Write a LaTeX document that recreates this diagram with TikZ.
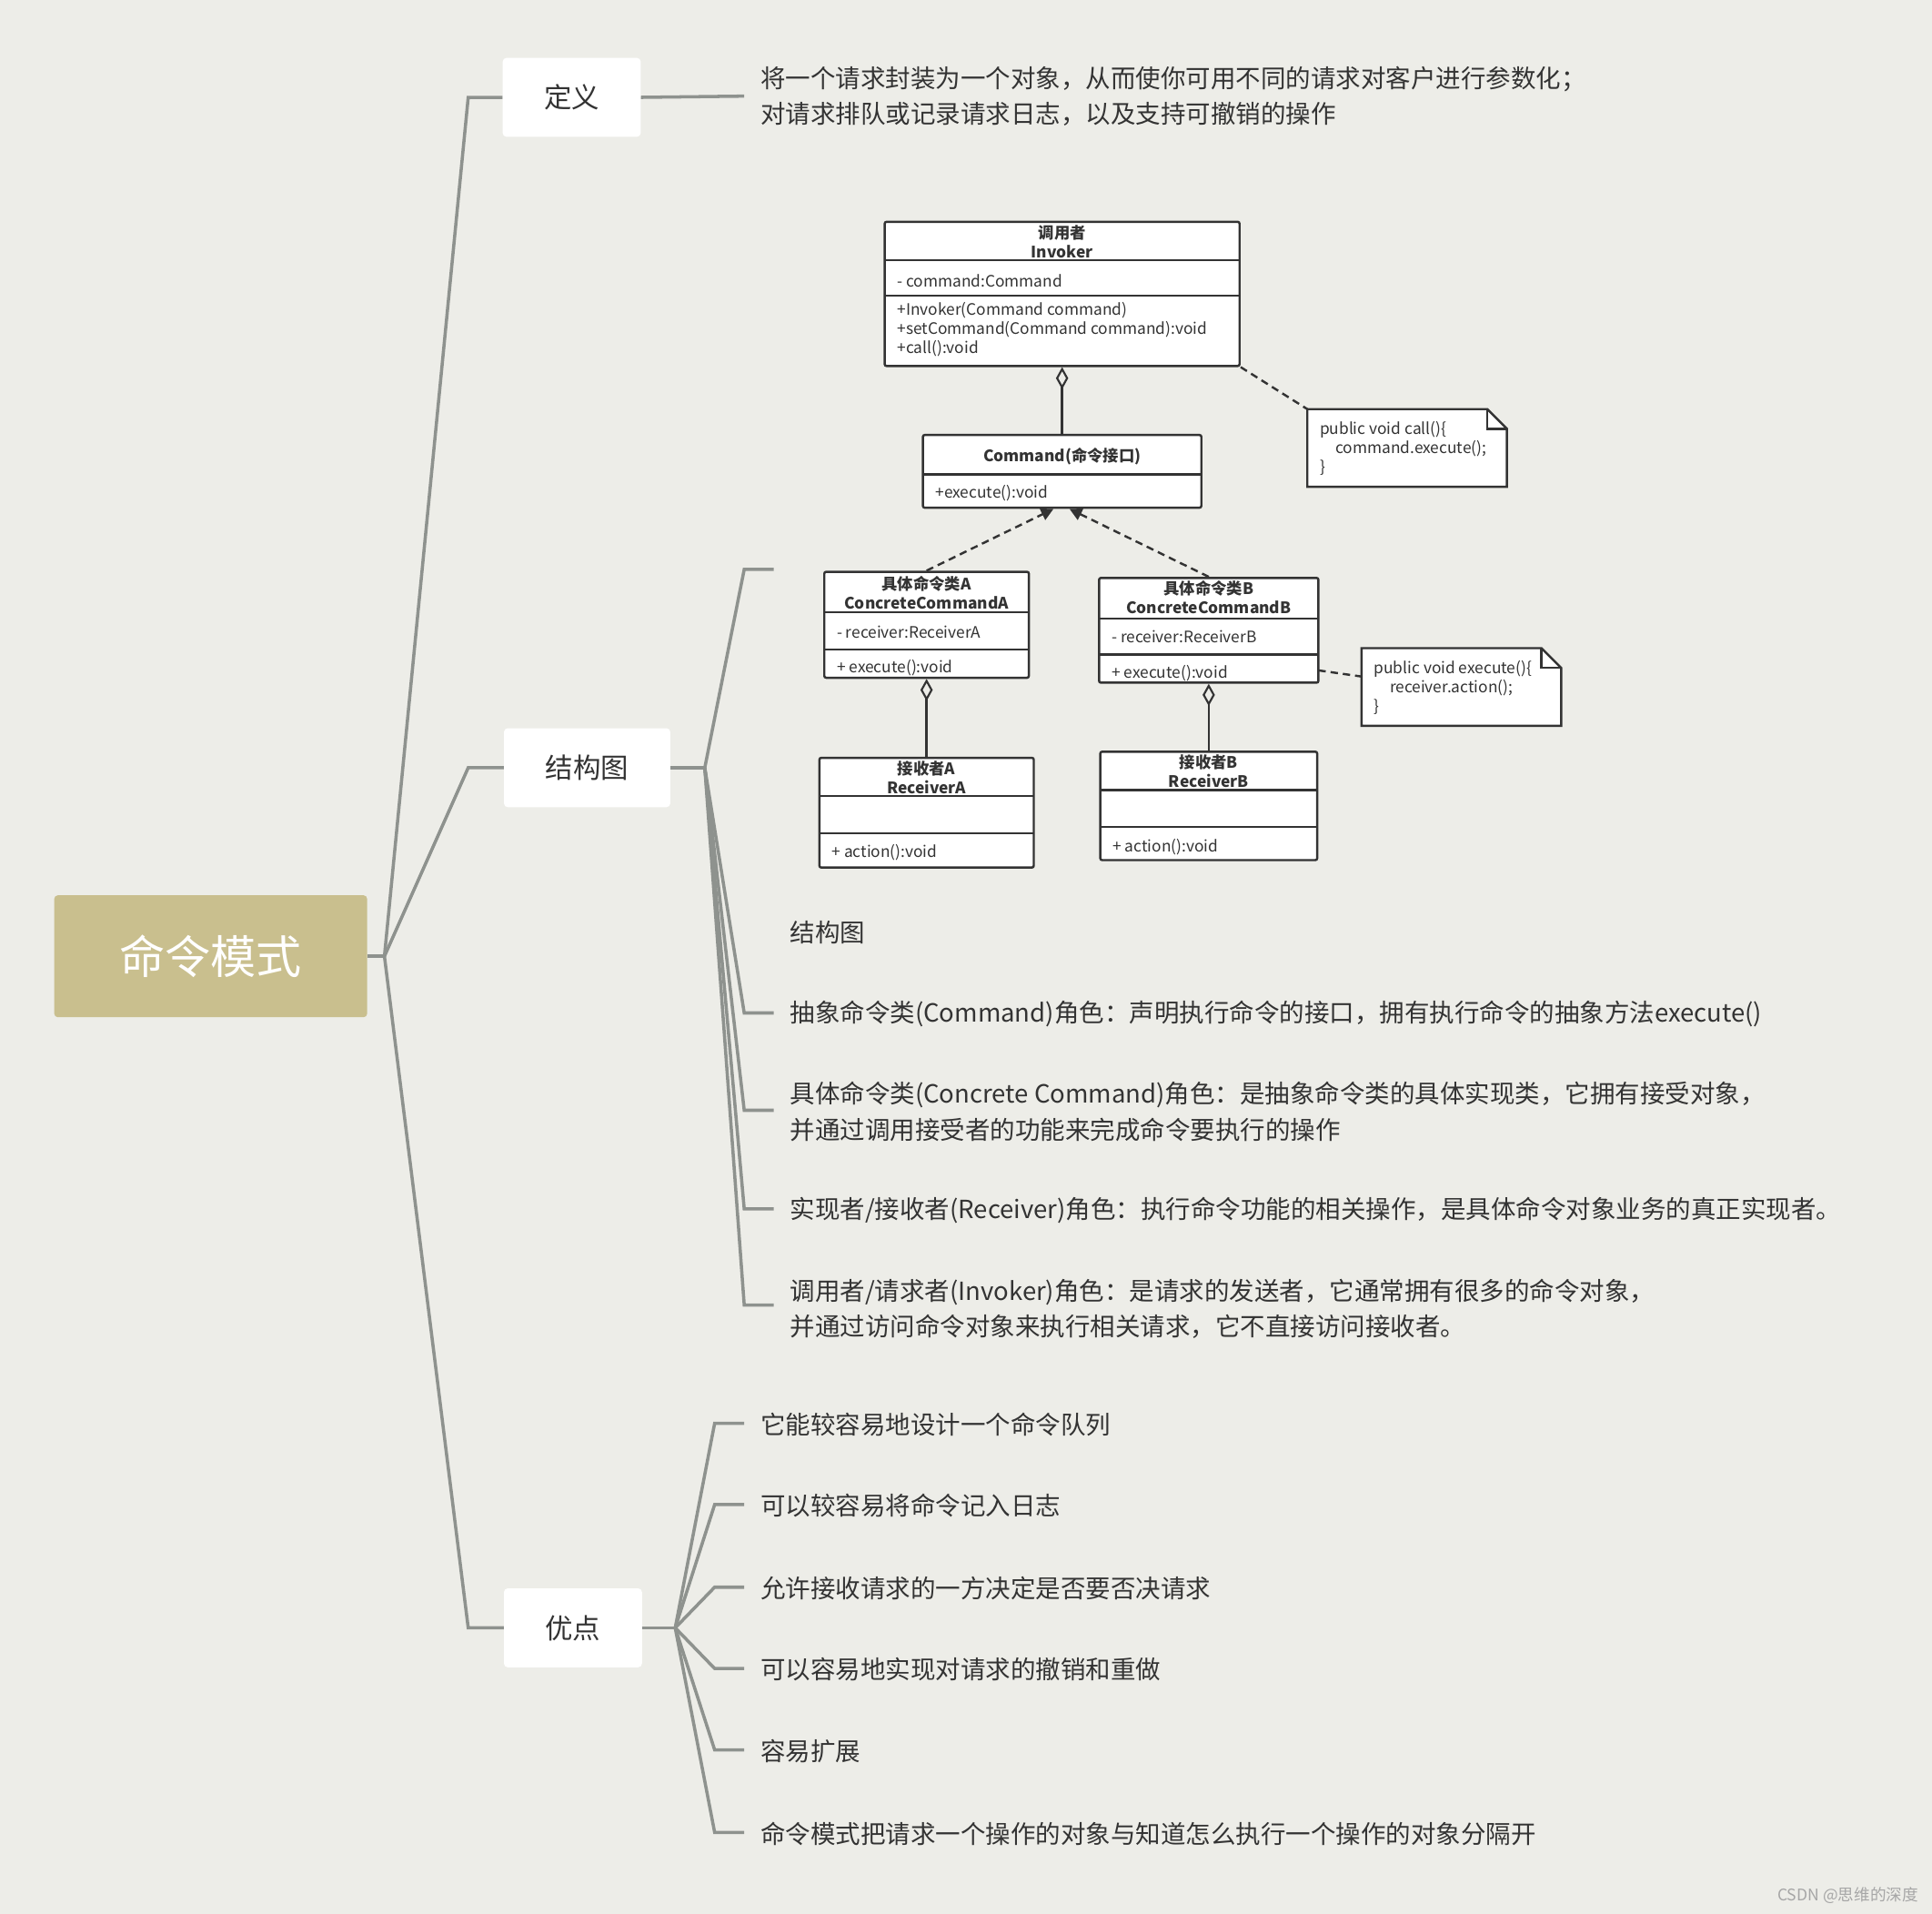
\documentclass[tikz,border=0pt]{standalone}
\usepackage{fontspec}
\setmainfont{Noto Sans CJK SC}
\usetikzlibrary{arrows.meta}
\definecolor{bg}{HTML}{EDEDE8}
\definecolor{br}{HTML}{8E928E}
\definecolor{rootc}{HTML}{C9BF8E}
\definecolor{txt}{HTML}{333333}
\definecolor{uml}{HTML}{333333}
\begin{document}
\begin{tikzpicture}[x=1pt,y=-1pt,
 branch/.style={draw=br,line width=2.6pt},
 topic/.style={fill=white,rounded corners=3pt,minimum height=64pt,font=\fontsize{22.5}{26}\selectfont,text=txt,inner sep=0pt},
 leaf/.style={anchor=west,font=\fontsize{20.3}{29}\selectfont,text=txt,align=left,inner sep=0pt},
 ubox/.style={draw=uml,line width=1.8pt,fill=white,rounded corners=1.5pt},
 uline/.style={draw=uml,line width=1.8pt},
 ut/.style={font=\fontsize{12.8}{15.5}\selectfont,text=uml,inner sep=0pt,align=center},
 ul/.style={font=\fontsize{12.8}{15.5}\selectfont,text=uml,inner sep=0pt,anchor=west,align=left},
 udash/.style={draw=uml,line width=1.8pt,dash pattern=on 6pt off 4pt},
 agg/.style={-{Diamond[open,length=18pt,width=10pt,line width=1.6pt]}}]
\fill[bg] (0,0) rectangle (1568,1553);
\useasboundingbox (0,0) rectangle (1568,1553);
% root and topics
\node[fill=rootc,rounded corners=3pt,minimum width=254pt,minimum height=99pt,text=white,font=\fontsize{37}{40}\selectfont] (root) at (171,776) {命令模式};
\node[topic,minimum width=112pt] (def) at (464,79) {定义};
\node[topic,minimum width=135pt] (str) at (476.5,623) {结构图};
\node[topic,minimum width=112pt] (adv) at (465,1321) {优点};
\coordinate (r0) at (312,776);
\draw[branch] (root.east) -- (r0);
\draw[branch] (r0) -- (380,79) -- (def.west);
\draw[branch] (r0) -- (380,623) -- (str.west);
\draw[branch] (r0) -- (380,1321) -- (adv.west);
% definition
\coordinate (d1) at (604,78);
\draw[branch] (def.east) -- (d1);
\node[leaf] (dtext) at (617,78) {将一个请求封装为一个对象，从而使你可用不同的请求对客户进行参数化；\\对请求排队或记录请求日志，以及支持可撤销的操作};
% structure leaves
\coordinate (s0) at (572,623);
\draw[branch] (str.east) -- (s0);
\coordinate (simg) at (628,462);
\draw[branch] (s0) -- (604,462) -- (simg);
\foreach \y/\n in {822/a,901/b,981/c,1059/d}{
  \coordinate (s\n) at (628,\y);
  \draw[branch] (s0) -- (604,\y) -- (s\n);
}
\node[leaf] (cap) at (641,757) {结构图};
\node[leaf] (la) at (641,823) {抽象命令类(Command)角色：声明执行命令的接口，拥有执行命令的抽象方法execute()};
\node[leaf] (lb) at (641,902) {具体命令类(Concrete Command)角色：是抽象命令类的具体实现类，它拥有接受对象，\\并通过调用接受者的功能来完成命令要执行的操作};
\node[leaf] (lc) at (641,982) {实现者/接收者(Receiver)角色：执行命令功能的相关操作，是具体命令对象业务的真正实现者。};
\node[leaf] (ld) at (641,1062) {调用者/请求者(Invoker)角色：是请求的发送者，它通常拥有很多的命令对象，\\并通过访问命令对象来执行相关请求，它不直接访问接收者。};
% advantages
\coordinate (a0) at (548,1321);
\draw[branch] (adv.east) -- (a0);
\foreach \y/\t [count=\i] in {1155/它能较容易地设计一个命令队列,1221/可以较容易将命令记入日志,1288/允许接收请求的一方决定是否要否决请求,1354/可以容易地实现对请求的撤销和重做,1420/容易扩展,1487/命令模式把请求一个操作的对象与知道怎么执行一个操作的对象分隔开}{
  \coordinate (ae\i) at (604,\y);
  \draw[branch] (a0) -- (580,\y) -- (ae\i);
  \node[leaf] (at\i) at (617,\y+1) {\t};
}
% ===== UML =====
\node[ubox,minimum width=288pt,minimum height=117pt,inner sep=0pt] (inv) at (862,238.5) {};
\draw[uline] (718,211) -- (1006,211); \draw[uline] (718,240) -- (1006,240);
\node[ut,font=\bfseries\fontsize{12.8}{15.5}\selectfont] (invh) at (862,196) {调用者\\Invoker};
\node[ul] (inva) at (728,228) {- command:Command};
\node[ul] (invm) at (728,267) {+Invoker(Command command)\\+setCommand(Command command):void\\+call():void};
\node[ubox,minimum width=226pt,minimum height=59pt,inner sep=0pt] (cmd) at (862,382.5) {};
\draw[uline] (749,385) -- (975,385);
\node[ut,font=\bfseries\fontsize{12.8}{15.5}\selectfont] (cmdh) at (862,370) {Command(命令接口)};
\node[ul] (cmdm) at (759,400) {+execute():void};
\node[ubox,minimum width=166pt,minimum height=86pt,inner sep=0pt] (ca) at (752,507) {};
\draw[uline] (669,497) -- (835,497); \draw[uline] (669,527) -- (835,527);
\node[ut,font=\bfseries\fontsize{12.8}{15.5}\selectfont] (cah) at (752,481) {具体命令类A\\ConcreteCommandA};
\node[ul] (caa) at (679,513) {- receiver:ReceiverA};
\node[ul] (cam) at (679,542) {+ execute():void};
\node[ubox,minimum width=178pt,minimum height=85pt,inner sep=0pt] (cb) at (981,511.5) {};
\draw[uline] (892,502) -- (1070,502); \draw[uline] (892,531) -- (1070,531);
\node[ut,font=\bfseries\fontsize{12.8}{15.5}\selectfont] (cbh) at (981,485) {具体命令类B\\ConcreteCommandB};
\node[ul] (cba) at (902,517) {- receiver:ReceiverB};
\node[ul] (cbm) at (902,546) {+ execute():void};
\node[ubox,minimum width=174pt,minimum height=89pt,inner sep=0pt] (ra) at (752,659.5) {};
\draw[uline] (665,646) -- (839,646); \draw[uline] (665,676) -- (839,676);
\node[ut,font=\bfseries\fontsize{12.8}{15.5}\selectfont] (rah) at (752,631) {接收者A\\ReceiverA};
\node[ul] (ram) at (675,692) {+ action():void};
\node[ubox,minimum width=176pt,minimum height=88pt,inner sep=0pt] (rb) at (981,654) {};
\draw[uline] (893,641) -- (1069,641); \draw[uline] (893,671) -- (1069,671);
\node[ut,font=\bfseries\fontsize{12.8}{15.5}\selectfont] (rbh) at (981,626) {接收者B\\ReceiverB};
\node[ul] (rbm) at (903,687) {+ action():void};
% Notes
\draw[uline,fill=white] (1061,332) -- (1207,332) -- (1223,348) -- (1223,395) -- (1061,395) -- cycle;
\draw[uline] (1207,332) -- (1207,348) -- (1223,348);
\node[ul] (n1) at (1071,364) {public void call()\{\\\quad command.execute();\\\}};
\coordinate (n1c) at (1061,332);
\draw[uline,fill=white] (1105,526) -- (1251,526) -- (1267,542) -- (1267,589) -- (1105,589) -- cycle;
\draw[uline] (1251,526) -- (1251,542) -- (1267,542);
\node[ul] (n2) at (1115,558) {public void execute()\{\\\quad receiver.action();\\\}};
\coordinate (n2c) at (1105,549);
% connectors
\draw[uline,agg] (cmd.north) -- (inv.south);
\draw[udash,-{Triangle[length=10pt,width=10pt]}] (ca.north) -- (855,413);
\draw[udash,-{Triangle[length=10pt,width=10pt]}] (cb.north) -- (868,413);
\draw[uline,agg] (ra.north) -- (ca.south);
\draw[uline,agg] (rb.north) -- (cb.south);
\draw[udash] (inv.south east) -- (n1c);
\draw[udash] (1070,544) -- (n2c);
\node[anchor=east,font=\fontsize{13}{15}\selectfont,text=gray!70,inner sep=0pt] (wm) at (1557,1538) {CSDN @思维的深度};
\end{tikzpicture}
\end{document}
